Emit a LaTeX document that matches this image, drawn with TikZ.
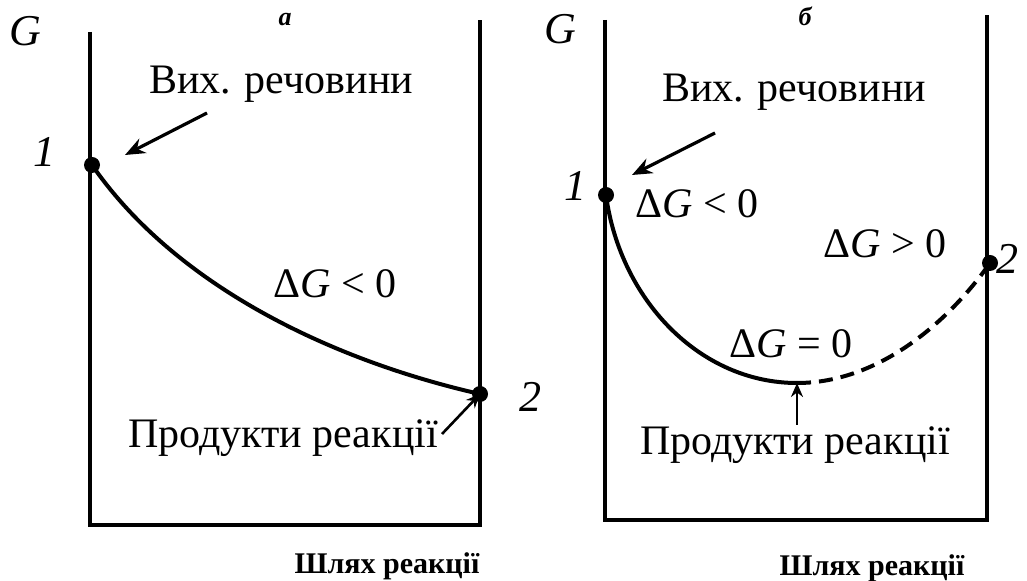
\documentclass[tikz,border=0pt]{standalone}
\usepackage{fontspec}
\setmainfont{Liberation Serif}
\usetikzlibrary{arrows.meta}

\begin{document}
\begin{tikzpicture}[x=0.5pt,y=-0.5pt,
    axis/.style={line width=2.4pt},
    curve/.style={line width=2pt},
    dot/.style={circle,fill,inner sep=0pt,minimum size=8pt},
    lbl/.style={anchor=base,font=\fontsize{21}{24}\selectfont},
    num/.style={anchor=base,font=\fontsize{22}{25}\selectfont\itshape},
    tag/.style={anchor=base,font=\fontsize{13}{15}\selectfont\bfseries\itshape},
    path/.style={anchor=base,font=\fontsize{15}{18}\selectfont\bfseries},
    ptr/.style={line width=1.6pt,-{Stealth[length=10pt,width=8pt]}},
    smallptr/.style={line width=1.3pt,-{Stealth[length=7pt,width=6pt]}}]
    \useasboundingbox (0,0) rectangle (1027,581);
    % panel a
    \draw[axis] (90,32)--(90,525)--(480,525)--(480,20);
    \node[num] (Ga) at (25,46) {G};
    \node[tag] (ta) at (285,26) {а};
    \node[dot] (p1a) at (92,165) {};
    \node[dot] (p2a) at (480,394) {};
    \node[num] (n1a) at (44,167) {1};
    \node[num] (n2a) at (530,412) {2};
    \node[lbl] (reaga) at (281,94) {Вих. речовини};
    \node[lbl] (dGa) at (335,298) {Δ\textit{G} < 0};
    \node[lbl] (proda) at (283,448) {Продукти реакції};
    \node[path] (wa) at (387,574) {Шлях реакції};
    \coordinate (sa) at (207,113);
    \coordinate (sb) at (442,434);
    \draw[curve] (p1a.center) .. controls (175,285) and (330,360) .. (p2a.center);
    \draw[ptr] (sa) -- (125,155);
    \draw[smallptr] (sb) -- (p2a.center);
    % panel b
    \draw[axis] (605,20)--(605,520)--(987,520)--(987,15);
    \node[num] (Gb) at (560,44) {G};
    \node[tag] (tb) at (805,26) {б};
    \node[dot] (p1b) at (606,195) {};
    \node[dot] (p2b) at (990,263) {};
    \node[dot,minimum size=0pt] (minb) at (797,383) {};
    \node[num] (n1b) at (575,201) {1};
    \node[num,anchor=base east] (n2b) at (1026,274) {2};
    \node[lbl] (reagb) at (794,102) {Вих. речовини};
    \node[lbl] (dGb1) at (697,218) {Δ\textit{G} < 0};
    \node[lbl] (dGb2) at (885,258) {Δ\textit{G} > 0};
    \node[lbl] (dGb3) at (791,358) {Δ\textit{G} = 0};
    \node[lbl] (prodb) at (795,455) {Продукти реакції};
    \node[path] (wb) at (872,576) {Шлях реакції};
    \coordinate (sc) at (715,133);
    \coordinate (sd) at (797,425);
    \draw[curve] (p1b.center) .. controls (620,300) and (700,383) .. (minb.center);
    \draw[curve,dash pattern=on 7pt off 4pt] (minb.center) .. controls (880,383) and (950,320) .. (p2b.center);
    \draw[ptr] (sc) -- (632,175);
    \draw[smallptr] (sd) -- (minb.center);
\end{tikzpicture}
\end{document}
